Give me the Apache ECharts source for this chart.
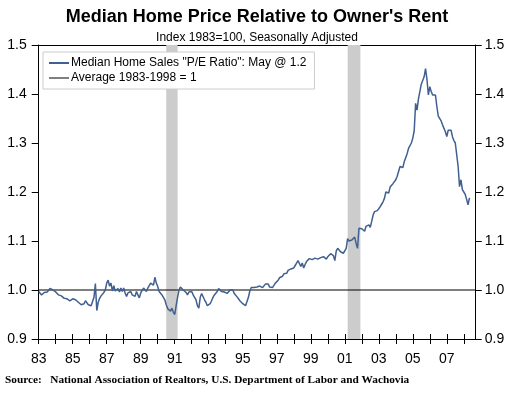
<!DOCTYPE html>
<html><head><meta charset="utf-8">
<script src="https://cdn.jsdelivr.net/npm/echarts@6/dist/echarts.min.js"></script>
<style>html,body{margin:0;padding:0;background:#fff}#c{width:514px;height:395px}</style>
</head><body><div id="c"></div>
<script>
// Monthly P/E ratio values, Jan 1983 .. May 2008
const startYear = 1983;
const y1983 = [0.997,0.995,0.990,0.988,0.995,0.998,0.996,1.000,1.003,1.007,1.000,0.998];
const y1984 = [0.996,0.993,0.990,0.992,0.988,0.985,0.983,0.986,0.982,0.980,0.978,0.979];
const y1985 = [0.982,0.985,0.980,0.977,0.975,0.972,0.970,0.968,0.972,0.978,0.975,0.970];
const y1986 = [0.972,0.968,0.970,0.985,1.013,0.958,0.975,0.983,0.988,0.990,0.995,1.000];
const y1987 = [1.014,1.020,1.008,1.014,0.998,1.009,0.998,0.996,1.003,0.996,1.004,0.997];
const y1988 = [1.004,0.994,0.987,0.994,0.990,0.997,0.990,0.994,0.987,0.997,0.990,0.984];
const y1989 = [0.994,0.997,1.004,1.001,0.997,1.004,1.008,1.014,1.017,1.010,1.026,1.014];
const y1990 = [1.007,0.997,1.000,0.990,0.987,0.980,0.970,0.962,0.966,0.957,0.963,0.955];
const y1991 = [0.950,0.968,0.985,1.000,1.006,1.010,1.000,1.002,0.995,0.990,0.996,1.000];
const y1992 = [0.997,0.990,0.985,0.980,0.968,0.963,0.985,0.993,0.990,0.980,0.975,0.968];
const y1993 = [0.966,0.972,0.978,0.985,0.990,0.993,0.997,1.003,1.002,0.997,1.000,0.996];
const y1994 = [0.998,0.993,0.997,1.000,0.996,1.000,0.993,0.990,0.986,0.982,0.978,0.975];
const y1995 = [0.972,0.970,0.968,0.966,0.985,0.998,1.005,1.003,1.005,1.002,1.006,1.007];
const y1996 = [1.008,1.010,1.005,1.008,1.012,1.016,1.012,1.006,1.003,1.005,1.008,1.014];
const y1997 = [1.018,1.020,1.025,1.024,1.028,1.033,1.037,1.034,1.040,1.038,1.043,1.046];
const y1998 = [1.045,1.050,1.055,1.060,1.058,1.048,1.055,1.045,1.052,1.058,1.060,1.064];
const y1999 = [1.064,1.062,1.064,1.065,1.064,1.063,1.065,1.066,1.065,1.068,1.066,1.063];
const y2000 = [1.068,1.070,1.074,1.076,1.070,1.060,1.080,1.085,1.088,1.078,1.082,1.075];
const y2001 = [1.073,1.085,1.105,1.100,1.098,1.102,1.100,1.108,1.095,1.085,1.126,1.122];
const y2002 = [1.125,1.124,1.120,1.130,1.126,1.133,1.128,1.140,1.153,1.160,1.160,1.162];
const y2003 = [1.166,1.170,1.175,1.180,1.187,1.200,1.202,1.198,1.210,1.214,1.217,1.220];
const y2004 = [1.225,1.232,1.235,1.252,1.255,1.250,1.262,1.270,1.278,1.289,1.292,1.300];
const y2005 = [1.310,1.325,1.381,1.367,1.390,1.393,1.420,1.422,1.435,1.452,1.430,1.398];
const y2006 = [1.415,1.405,1.398,1.400,1.398,1.374,1.355,1.352,1.345,1.337,1.335,1.323];
const y2007 = [1.313,1.326,1.328,1.326,1.313,1.305,1.300,1.298,1.252,1.211,1.225,1.205];
const y2008 = [1.200,1.195,1.185,1.174,1.188];

const averageValue = 1;
const recessions = [[1990.5, 1991.17], [2001.17, 2001.92]];
const xTickLabels = ['83','85','87','89','91','93','95','97','99','01','03','05','07'];
const yTickLabels = ['0.9','1.0','1.1','1.2','1.3','1.4','1.5'];
const seriesNames = ['Median Home Sales "P/E Ratio": May @ 1.2', 'Average 1983-1998 = 1'];

const years = [y1983,y1984,y1985,y1986,y1987,y1988,y1989,y1990,y1991,y1992,y1993,y1994,y1995,
  y1996,y1997,y1998,y1999,y2000,y2001,y2002,y2003,y2004,y2005,y2006,y2007,y2008];
const peData = [];
years.forEach((arr, i) => arr.forEach((v, m) => peData.push([startYear + i + m / 12, v])));

const X_MIN = 1983, X_MAX = 2008.7;
const chart = echarts.init(document.getElementById('c'), null, {renderer: 'canvas'});
const FONT = 'Liberation Sans';
const xLabelFmt = v => {
  if (Math.abs(v - Math.round(v)) > 1e-6) return '';
  const r = Math.round(v);
  const s = String(r).slice(2);
  return xTickLabels.indexOf(s) >= 0 && (r - 1983) % 2 === 0 ? s : '';
};
const yLabelFmt = v => {
  const s = v.toFixed(1);
  return yTickLabels.indexOf(s) >= 0 ? s : '';
};
const baseX = {
  type: 'value', min: X_MIN, max: X_MAX, interval: 1, position: 'bottom',
  axisLine: {show: true, lineStyle: {color: '#000', width: 1}},
  splitLine: {show: false}
};
const baseY = {
  type: 'value', min: 0.9, max: 1.5, interval: 0.1,
  axisLine: {show: true, lineStyle: {color: '#000', width: 1}},
};
chart.setOption({
  animation: false,
  title: [
    {text: "Median Home Price Relative to Owner's Rent", left: 'center', top: 3,
     textStyle: {fontFamily: FONT, fontWeight: 'bold', fontSize: 18, color: '#000'}},
    {text: 'Index 1983=100, Seasonally Adjusted', left: 'center', top: 27,
     textStyle: {fontFamily: FONT, fontWeight: 'normal', fontSize: 12, color: '#000'}}
  ],
  legend: {
    left: 43, top: 52, orient: 'vertical', itemGap: 3, padding: [5, 8, 5, 6],
    borderColor: '#cccccc', borderWidth: 1, backgroundColor: '#fff',
    itemWidth: 20, itemHeight: 10,
    textStyle: {fontFamily: FONT, fontSize: 12, color: '#000', padding: [0, 0, 0, -3]},
    data: [
      {name: seriesNames[0], icon: 'path://M0,4 L20,4 L20,6 L0,6 Z'},
      {name: seriesNames[1], icon: 'path://M0,4.5 L20,4.5 L20,5.5 L0,5.5 Z'}
    ]
  },
  grid: {left: 38.7, right: 38.3, top: 45, bottom: 56},
  xAxis: [
    Object.assign({}, baseX, {
      axisTick: {show: true, inside: false, length: 5, lineStyle: {color: '#000'}},
      axisLabel: {formatter: xLabelFmt, color: '#000', fontFamily: FONT, fontSize: 14, margin: 13, showMaxLabel: false}
    }),
    Object.assign({}, baseX, {
      axisTick: {show: true, inside: true, length: 5, lineStyle: {color: '#000'}},
      axisLabel: {show: false}
    })
  ],
  yAxis: [
    Object.assign({}, baseY, {position: 'left',
      axisTick: {show: true, length: 7, lineStyle: {color: '#000'}},
      axisLabel: {formatter: yLabelFmt, color: '#000', fontFamily: FONT, fontSize: 14, margin: 12},
      splitLine: {show: true, lineStyle: {color: ['transparent','transparent','transparent','transparent','transparent','transparent','#000']}}}),
    Object.assign({}, baseY, {position: 'right',
      axisTick: {show: true, length: 6, lineStyle: {color: '#000'}},
      axisLabel: {formatter: yLabelFmt, color: '#000', fontFamily: FONT, fontSize: 14, margin: 9},
      splitLine: {show: false}})
  ],
  series: [
    {
      name: seriesNames[1], type: 'line', xAxisIndex: 0, yAxisIndex: 0, symbol: 'none', z: 3,
      color: '#000', lineStyle: {color: '#000', width: 1.2},
      data: [[X_MIN, averageValue], [X_MAX, averageValue]]
    },
    {
      name: seriesNames[0], type: 'line', xAxisIndex: 0, yAxisIndex: 0, symbol: 'none', z: 4,
      color: '#40608f', lineStyle: {color: '#40608f', width: 1.5},
      data: peData,
      markArea: {silent: true, itemStyle: {color: '#cccccc'}, z: 1,
        data: recessions.map(r => [{xAxis: r[0]}, {xAxis: r[1]}])}
    }
  ],
  graphic: [
    {type: 'text', left: 5, top: 375, style: {
      text: 'Source:   National Association of Realtors, U.S. Department of Labor and Wachovia',
      font: 'bold 11.3px "Liberation Serif"', fill: '#000'}}
  ]
});
</script></body></html>
